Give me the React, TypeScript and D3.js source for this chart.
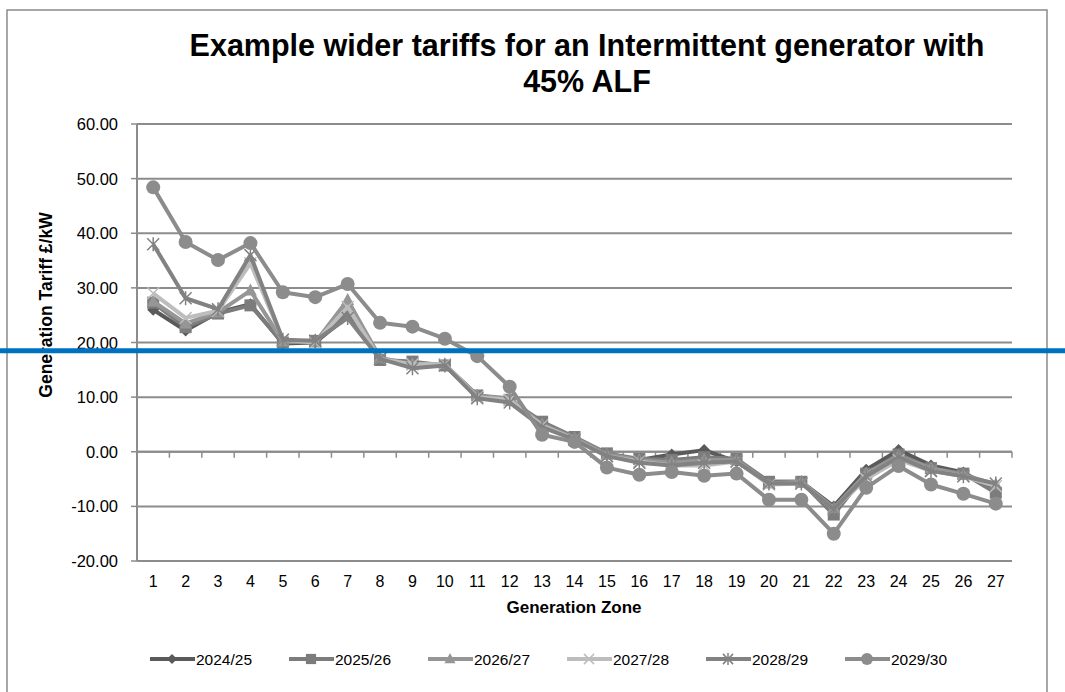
import React from "react";
import * as d3 from "d3";

const zones = Array.from({ length: 27 }, (_, i) => String(i + 1));
const seriesNames = ["2024/25", "2025/26", "2026/27", "2027/28", "2028/29", "2029/30"];
const s2024 = [26.0, 22.2, 25.5, 27.0, 19.8, 20.0, 24.8, 17.0, 16.0, 15.8, 10.3, 9.5, 5.0, 2.5, -0.5, -1.5, -0.5, 0.3, -1.8, -5.5, -5.5, -10.0, -3.3, 0.3, -2.5, -3.8, -7.0];
const s2025 = [27.3, 22.8, 25.3, 26.8, 20.0, 20.3, 25.5, 16.8, 16.5, 15.8, 10.3, 9.5, 5.5, 2.7, -0.3, -1.3, -1.5, -1.0, -1.3, -5.5, -5.5, -11.5, -4.0, -0.5, -3.0, -4.0, -7.5];
const s2026 = [27.5, 23.5, 25.5, 29.5, 20.2, 20.0, 27.8, 17.2, 16.0, 16.0, 10.3, 9.8, 5.0, 2.5, -0.5, -1.5, -2.0, -1.5, -1.5, -5.8, -5.5, -10.3, -4.0, -0.8, -3.0, -4.2, -6.0];
const s2027 = [29.0, 24.5, 25.8, 34.5, 20.5, 20.0, 26.5, 17.0, 16.0, 16.0, 10.0, 9.5, 4.8, 2.3, -0.8, -1.8, -2.5, -2.5, -1.8, -6.0, -5.8, -10.5, -5.0, -1.5, -3.5, -4.5, -6.3];
const s2028 = [38.0, 28.1, 26.1, 36.0, 20.5, 20.3, 24.5, 17.0, 15.3, 15.8, 9.8, 9.0, 4.5, 2.2, -0.8, -2.0, -2.5, -2.0, -1.8, -5.8, -5.8, -10.5, -4.5, -1.0, -3.5, -4.5, -5.8];
const s2029 = [48.4, 38.4, 35.1, 38.2, 29.2, 28.3, 30.7, 23.6, 22.9, 20.7, 17.5, 11.9, 3.1, 1.8, -2.9, -4.2, -3.7, -4.4, -4.0, -8.8, -8.8, -15.0, -6.6, -2.6, -6.0, -7.7, -9.5];
const yTicks = [60, 50, 40, 30, 20, 10, 0, -10, -20];
const seriesData = [s2024, s2025, s2026, s2027, s2028, s2029];
const colors = ["#5a5a5a", "#7c7c7c", "#969696", "#bdbdbd", "#828282", "#8c8c8c"];
const markers = ["diamond", "square", "triangle", "x", "star", "circle"];
const refLineValue = 18.5;

const W = 1065, H = 692;
const plotL = 137, plotR = 1012, plotT = 124, plotB = 561;

function Marker({ type, x, y, color, s = 1 }: any) {
  switch (type) {
    case "diamond":
      return <path d={`M${x},${y - 6 * s}L${x + 6 * s},${y}L${x},${y + 6 * s}L${x - 6 * s},${y}Z`} fill={color} />;
    case "square":
      return <rect x={x - 6 * s} y={y - 6 * s} width={12 * s} height={12 * s} fill={color} />;
    case "triangle":
      return <path d={`M${x},${y - 7 * s}L${x + 6.5 * s},${y + 5 * s}L${x - 6.5 * s},${y + 5 * s}Z`} fill={color} />;
    case "x":
      return <path d={`M${x - 6 * s},${y - 6 * s}L${x + 6 * s},${y + 6 * s}M${x - 6 * s},${y + 6 * s}L${x + 6 * s},${y - 6 * s}`} stroke={color} strokeWidth={1.5} />;
    case "star":
      return <path d={`M${x - 6 * s},${y - 6 * s}L${x + 6 * s},${y + 6 * s}M${x - 6 * s},${y + 6 * s}L${x + 6 * s},${y - 6 * s}M${x},${y - 7 * s}L${x},${y + 7 * s}`} stroke={color} strokeWidth={1.5} />;
    default:
      return <circle cx={x} cy={y} r={7 * s} fill={color} />;
  }
}

export default function App() {
  const x = d3.scaleBand().domain(zones).range([plotL, plotR]);
  const y = d3.scaleLinear().domain([-20, 60]).range([plotB, plotT]);
  const cx = (z: string) => (x(z) as number) + x.bandwidth() / 2;
  const line = d3.line<number>().x((_, i) => cx(zones[i])).y((d) => y(d));
  const font = "'Liberation Sans', Arial, sans-serif";
  const y0 = y(0);
  return (
    <svg width={W} height={H} style={{ position: "absolute", left: 0, top: 0 }} fontFamily={font}>
      <rect x={0} y={0} width={W} height={H} fill="#fff" />
      <rect x={7} y={10} width={1040} height={H + 20} fill="none" stroke="#8a8a8a" strokeWidth={1.5} />
      <text x={587} y={56} textAnchor="middle" fontSize={30.5} fontWeight="bold" fill="#000">Example wider tariffs for an Intermittent generator with</text>
      <text x={587} y={92} textAnchor="middle" fontSize={30.5} fontWeight="bold" fill="#000">45% ALF</text>
      {yTicks.map((t) => (
        <g key={t}>
          <line x1={plotL} x2={plotR} y1={y(t)} y2={y(t)} stroke="#8c8c8c" strokeWidth={2} />
          <line x1={plotL - 6} x2={plotL} y1={y(t)} y2={y(t)} stroke="#8c8c8c" strokeWidth={1.5} />
          <text x={118} y={y(t) + 6} textAnchor="end" fontSize={16.5} fill="#000">{t.toFixed(2)}</text>
        </g>
      ))}
      <line x1={plotL} x2={plotL} y1={plotT} y2={plotB} stroke="#8c8c8c" strokeWidth={2} />
      <line x1={plotL} x2={plotR} y1={y0} y2={y0} stroke="#8c8c8c" strokeWidth={2} />
      {zones.map((z) => (
        <line key={z} x1={(x(z) as number) + x.bandwidth()} x2={(x(z) as number) + x.bandwidth()} y1={y0} y2={y0 + 6} stroke="#8c8c8c" strokeWidth={1.5} />
      ))}
      {zones.map((z) => (
        <text key={z} x={cx(z)} y={587} textAnchor="middle" fontSize={16} fill="#000">{z}</text>
      ))}
      <text x={574} y={613} textAnchor="middle" fontSize={17} fontWeight="bold" fill="#000">Generation Zone</text>
      <text transform={`translate(52,305) rotate(-90)`} textAnchor="middle" fontSize={17.5} fontWeight="bold" fill="#000">Generation Tariff £/kW</text>
      {seriesData.map((s, si) => (
        <g key={si}>
          <path d={line(s) as string} fill="none" stroke={colors[si]} strokeWidth={4} strokeLinejoin="round" />
          {s.map((v, i) => (
            <Marker key={i} type={markers[si]} x={cx(zones[i])} y={y(v)} color={colors[si]} />
          ))}
        </g>
      ))}
      <line x1={0} x2={W} y1={y(refLineValue)} y2={y(refLineValue)} stroke="#0070c0" strokeWidth={5} />
      {seriesNames.map((n, i) => {
        const lx = 150 + i * 139;
        return (
          <g key={n}>
            <line x1={lx} x2={lx + 45} y1={659} y2={659} stroke={colors[i]} strokeWidth={4} />
            <Marker type={markers[i]} x={lx + 22} y={659} color={colors[i]} s={0.85} />
            <text x={lx + 46} y={665} fontSize={15.5} fill="#000">{n}</text>
          </g>
        );
      })}
    </svg>
  );
}
